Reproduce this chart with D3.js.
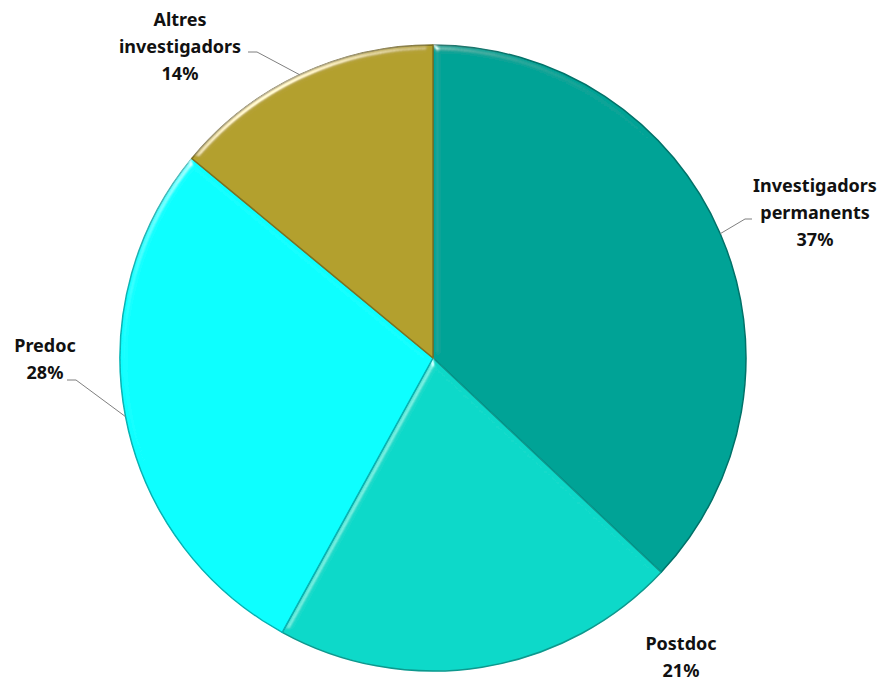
<!DOCTYPE html>
<html>
<head>
<meta charset="utf-8">
<script src="https://cdn.jsdelivr.net/npm/d3@7"></script>
<style>
  html, body { margin: 0; padding: 0; background: #fff; }
  svg { display: block; }
  text { font-family: "Noto Sans", "Open Sans", sans-serif; font-weight: bold; fill: #111; }
</style>
</head>
<body>
<svg id="chart" width="884" height="684"></svg>
<script>
const categories = [["Investigadors", "permanents"], ["Postdoc"], ["Predoc"], ["Altres", "investigadors"]]
const values = [37, 21, 28, 14]
const colors = ["#06a396", "#0cd9c9", "#0affff", "#b3a02e"]
const hasLeader = [true, false, true, true]

// label anchor (centre of text block) and start of the leader line
const labelLayout = [
  { x: 815, y: 213, side: "left", lx: 752, ly: 219 },
  { x: 681, y: 657, side: null },
  { x: 45, y: 359, side: "right", lx: 67, ly: 380 },
  { x: 180, y: 47, side: "right", lx: 248, ly: 52 }
]

function draw () {
  const svg = d3.select('#chart')
  const cx = 433, cy = 358, radius = 313

  const defs = svg.append('defs')
  const f = defs.append('filter').attr('id', 'bevel')
    .attr('x', '-5%').attr('y', '-5%').attr('width', '110%').attr('height', '110%')
  f.append('feGaussianBlur').attr('in', 'SourceAlpha').attr('stdDeviation', 3).attr('result', 'blur')
  f.append('feSpecularLighting').attr('in', 'blur').attr('surfaceScale', 5)
    .attr('specularConstant', 0.8).attr('specularExponent', 30)
    .attr('lighting-color', '#ffffff').attr('result', 'spec')
    .append('fePointLight').attr('x', -5000).attr('y', -8000).attr('z', 3000)
  f.append('feComposite').attr('in', 'spec').attr('in2', 'SourceAlpha').attr('operator', 'in').attr('result', 'specOut')
  f.append('feComposite').attr('in', 'SourceGraphic').attr('in2', 'specOut')
    .attr('operator', 'arithmetic').attr('k1', 0).attr('k2', 1).attr('k3', 0.8).attr('k4', 0)

  const data = values.map((v, i) => ({ name: categories[i], value: v, color: colors[i], i }))

  const pie = d3.pie().value(d => d.value).sort(null)
  const arcs = pie(data)
  const arc = d3.arc().innerRadius(0).outerRadius(radius)
  const edgeArc = d3.arc().innerRadius(radius * 2).outerRadius(radius * 2)

  const g = svg.append('g').attr('transform', `translate(${cx}, ${cy})`)

  g.selectAll('path.slice')
    .data(arcs)
    .join('path')
    .attr('class', 'slice')
    .attr('d', arc)
    .attr('fill', d => d.data.color)
    .attr('stroke', d => d3.color(d.data.color).darker(1))
    .attr('stroke-width', 1.5)
    .attr('stroke-linejoin', 'round')
    .attr('filter', 'url(#bevel)')

  // leader lines
  arcs.forEach((d, i) => {
    if (!hasLeader[i]) return
    const L = labelLayout[i]
    const c = edgeArc.centroid(d)
    const ex = cx + c[0] / 2, ey = cy + c[1] / 2
    const dx = L.side === "left" ? -7 : 9
    svg.append('polyline')
      .attr('points', `${L.lx},${L.ly} ${L.lx + dx},${L.ly} ${ex},${ey}`)
      .attr('fill', 'none')
      .attr('stroke', '#7f7f7f')
      .attr('stroke-width', 1)
  })

  // labels
  const lineH = 27
  arcs.forEach((d, i) => {
    const L = labelLayout[i]
    const lines = d.data.name.concat([`${d.data.value}%`])
    const t = svg.append('text')
      .attr('text-anchor', 'middle')
      .attr('font-size', 18)
    const y0 = L.y - (lines.length - 1) * lineH / 2
    lines.forEach((s, k) => {
      t.append('tspan')
        .attr('x', L.x)
        .attr('y', y0 + k * lineH)
        .attr('dy', '0.35em')
        .text(s)
    })
  })
}

draw();
</script>
</body>
</html>
